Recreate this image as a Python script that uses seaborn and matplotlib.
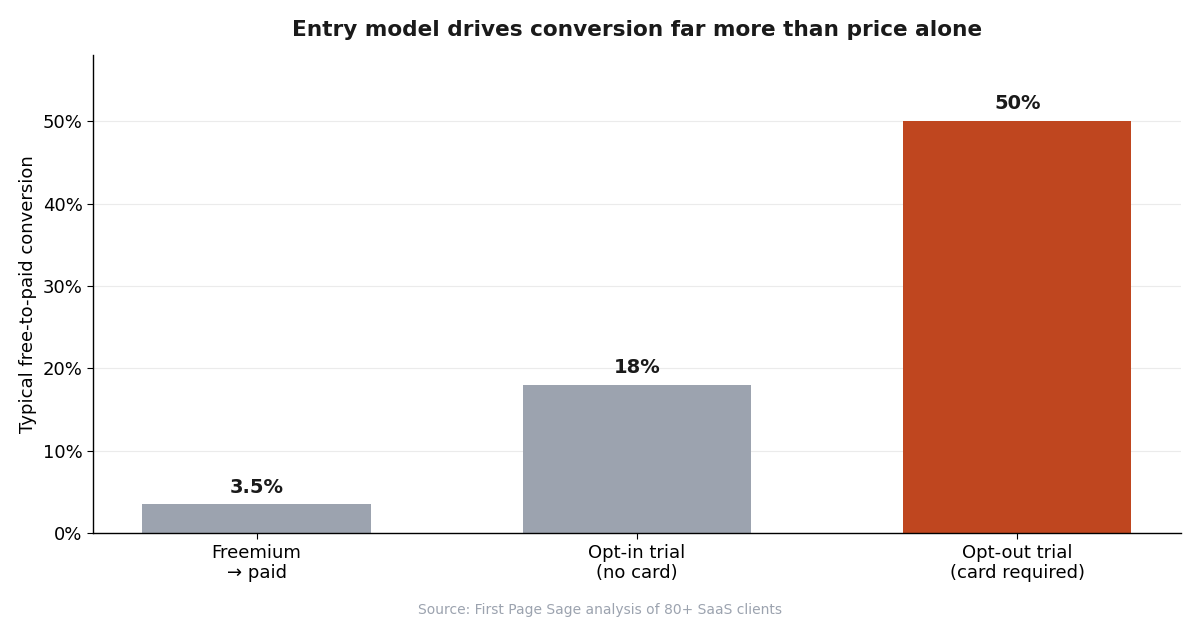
import pandas as pd
import seaborn as sns
import matplotlib.pyplot as plt
from matplotlib.ticker import PercentFormatter

# Data
categories = ["Freemium\n→ paid", "Opt-in trial\n(no card)", "Opt-out trial\n(card required)"]
conversion = [3.5, 18, 50]
value_labels = ["3.5%", "18%", "50%"]
bar_colors = ["#9ca3af", "#9ca3af", "#bf461f"]

df = pd.DataFrame({"model": categories, "conversion": conversion})

sns.set_style("white")
plt.rcParams["font.family"] = ["DejaVu Sans"]

fig, ax = plt.subplots(figsize=(12, 6.2), dpi=100)
sns.barplot(data=df, x="model", y="conversion", hue="model", palette=bar_colors,
            width=0.6, legend=False, saturation=1, linewidth=0, ax=ax, zorder=2)

ax.set_xlim(-0.43, 2.43)
ax.set_ylim(0, 58)
ax.set_yticks([0, 10, 20, 30, 40, 50])
ax.yaxis.set_major_formatter(PercentFormatter(decimals=0))
ax.yaxis.grid(True, color="#ebebeb", linewidth=0.8, zorder=0)
ax.set_axisbelow(True)

for i, (v, lab) in enumerate(zip(conversion, value_labels)):
    ax.text(i, v + 0.95, lab, ha="center", va="bottom", fontsize=14,
            fontweight="bold", color="#1a1a1a")

ax.set_title("Entry model drives conversion far more than price alone",
             fontsize=15.6, fontweight="bold", color="#1a1a1a", pad=14)
ax.set_xlabel("")
ax.set_ylabel("Typical free-to-paid conversion", fontsize=13, color="black")
ax.tick_params(axis="both", labelsize=13, length=4, colors="black", left=True, bottom=True)
sns.despine(ax=ax)
for side in ["left", "bottom"]:
    ax.spines[side].set_color("black")
    ax.spines[side].set_linewidth(1.0)

fig.text(0.5, 0.005, "Source: First Page Sage analysis of 80+ SaaS clients",
         ha="center", va="bottom", fontsize=10, color="#9ca3af")

fig.subplots_adjust(left=0.0775, right=0.984, top=0.911, bottom=0.14)
plt.savefig("out.png", dpi=100)
